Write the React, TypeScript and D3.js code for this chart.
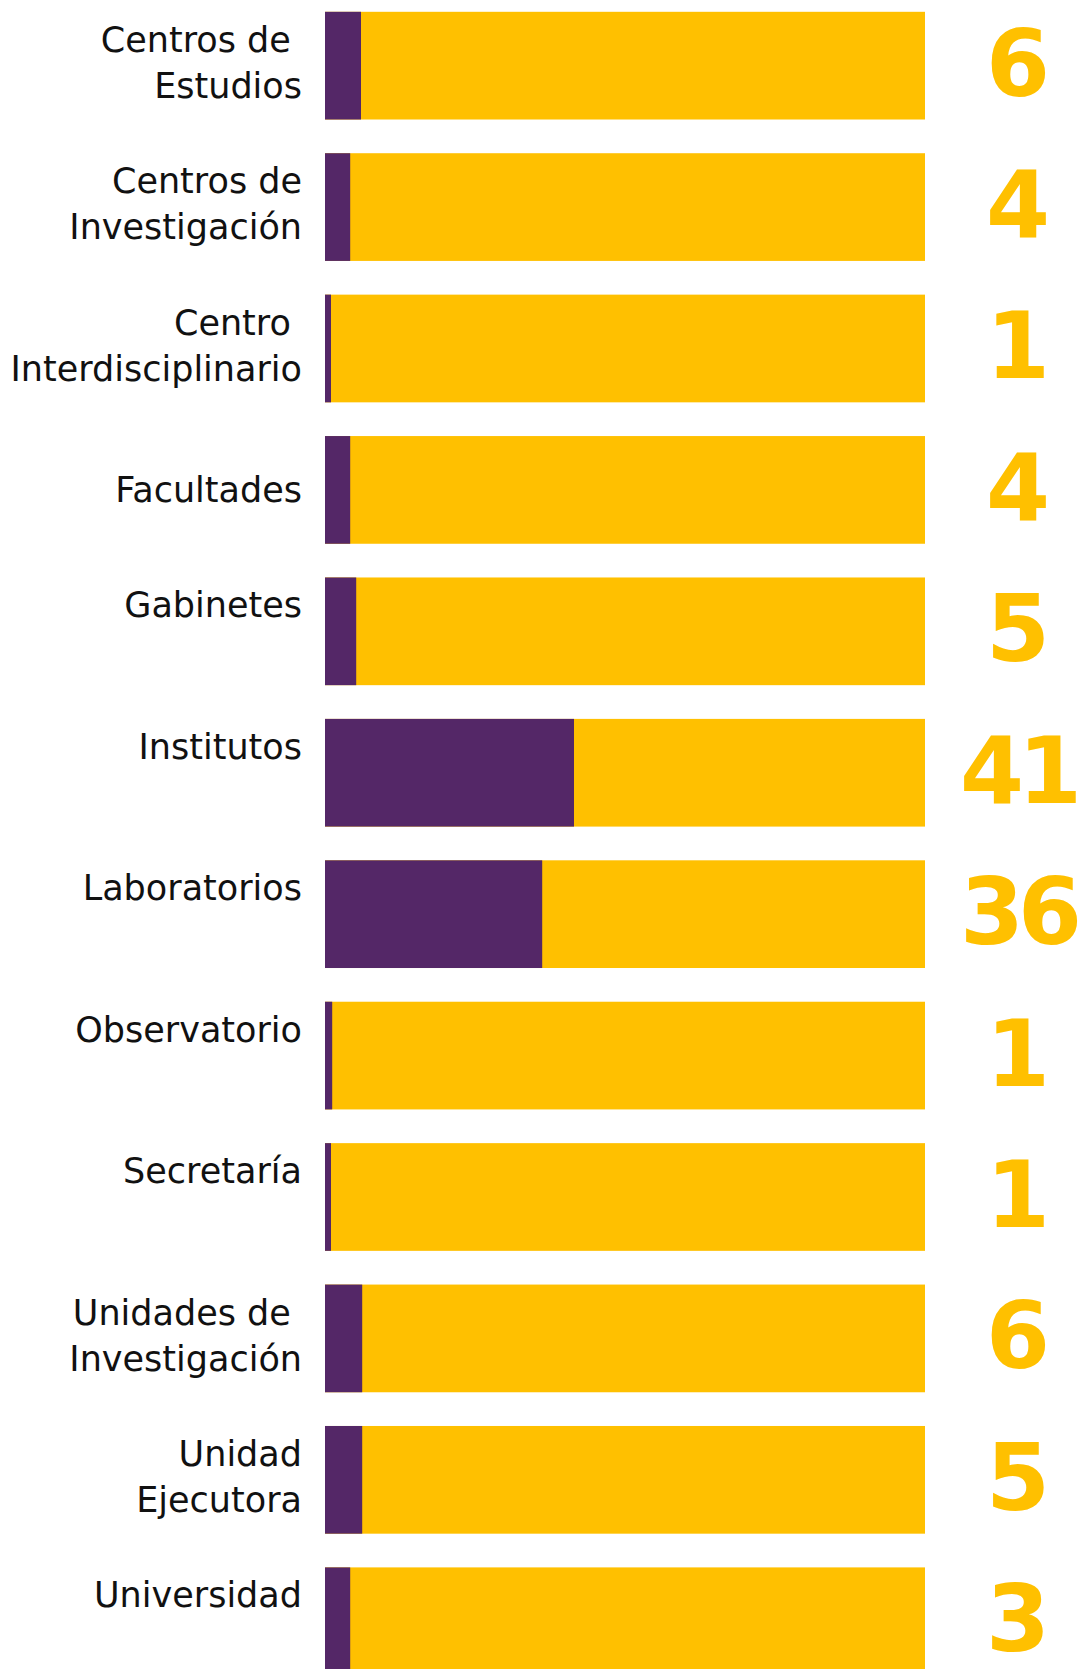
import React from "react";
import * as d3 from "d3";

const categories: string[] = [
  "Centros de \nEstudios",
  "Centros de\nInvestigación",
  "Centro \nInterdisciplinario",
  "Facultades",
  "Gabinetes",
  "Institutos",
  "Laboratorios",
  "Observatorio",
  "Secretaría",
  "Unidades de \nInvestigación",
  "Unidad\nEjecutora",
  "Universidad",
];
// numbers printed at the right
const values: number[] = [6, 4, 1, 4, 5, 41, 36, 1, 1, 6, 5, 3];
// purple bar lengths as drawn in the picture (same units)
const barValues: number[] = [6, 4.2, 1, 4.2, 5.2, 41.5, 36.2, 1.2, 1, 6.2, 6.2, 4.2];
const scaleMax = 100;
const centeredLabels = new Set<string>(["Facultades"]);

const W = 1083;
const H = 1669;
const PURPLE = "#542767";
const YELLOW = "#FFC000";

export default function App() {
  const x = d3.scaleLinear().domain([0, scaleMax]).range([325, 925]);
  const y = d3
    .scaleBand<string>()
    .domain(categories)
    .range([11.8, 1675.1])
    .paddingInner(0.2384)
    .paddingOuter(0);
  const bw = y.bandwidth();
  const lineH = 46;

  return (
    <svg
      width={W}
      height={H}
      viewBox={`0 0 ${W} ${H}`}
      style={{ position: "absolute", left: 0, top: 0, background: "#fff" }}
    >
      {categories.map((c, i) => {
        const top = y(c)!;
        const lines = c.split("\n");
        const firstBase = centeredLabels.has(c)
          ? top + bw / 2 + 12 - ((lines.length - 1) * lineH) / 2
          : top + 40;
        return (
          <g key={c}>
            <rect x={x(0)} y={top} width={x(scaleMax) - x(0)} height={bw} fill={YELLOW} />
            <rect x={x(0)} y={top} width={x(barValues[i]) - x(0)} height={bw} fill={PURPLE} />
            <text
              x={302}
              y={firstBase}
              textAnchor="end"
              fontFamily="'DejaVu Sans', sans-serif"
              fontSize={35}
              fill="#111"
              style={{ whiteSpace: "pre" }}
              xmlSpace="preserve"
            >
              {lines.map((ln, j) => (
                <tspan key={j} x={302} dy={j === 0 ? 0 : lineH}>
                  {ln}
                </tspan>
              ))}
            </text>
            <text
              x={1018}
              y={top + bw / 2 + 30}
              textAnchor="middle"
              fontFamily="'DejaVu Sans', sans-serif"
              fontWeight={700}
              fontSize={92}
              letterSpacing={values[i] >= 10 ? -6 : 0}
              fill={YELLOW}
            >
              {values[i]}
            </text>
          </g>
        );
      })}
    </svg>
  );
}
